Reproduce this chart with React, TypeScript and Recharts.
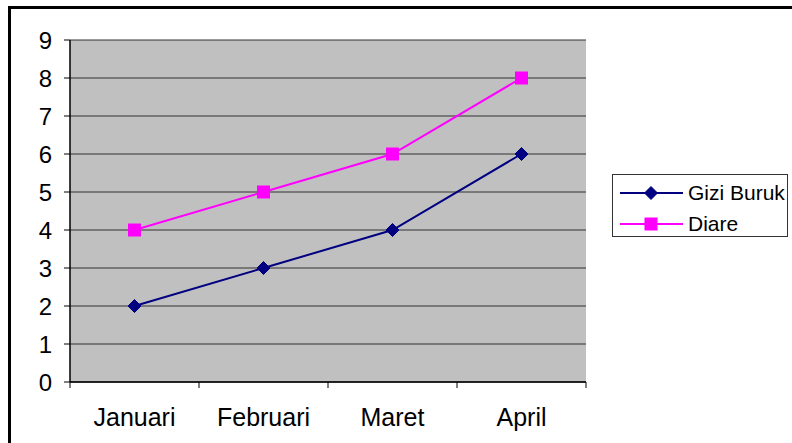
import React from 'react';
import {
  LineChart,
  Line,
  XAxis,
  YAxis,
  CartesianGrid,
  Legend,
} from 'recharts';

const months = ['Januari', 'Februari', 'Maret', 'April'];
const giziBuruk = [2, 3, 4, 6];
const diare = [4, 5, 6, 8];
const yTicks = [0, 1, 2, 3, 4, 5, 6, 7, 8, 9];

const data = months.map((m, i) => ({ name: m, giziBuruk: giziBuruk[i], diare: diare[i] }));

const W = 792;
const H = 443;
const PLOT_LEFT = 70;
const PLOT_RIGHT = 586;
const PLOT_TOP = 40;
const PLOT_BOTTOM = 382;
const HALF_BAND = (PLOT_RIGHT - PLOT_LEFT) / months.length / 2;
const FONT = '"Liberation Sans", Arial, sans-serif';

const NAVY = '#000080';
const MAGENTA = '#FF00FF';

const Diamond = ({ cx, cy, r = 6.5, fill }: any) => (
  <polygon
    points={`${cx},${cy - r} ${cx + r},${cy} ${cx},${cy + r} ${cx - r},${cy}`}
    fill={fill}
    stroke={fill}
  />
);

const Square = ({ cx, cy, s = 6.5, fill }: any) => (
  <rect x={cx - s} y={cy - s} width={s * 2} height={s * 2} fill={fill} />
);

// category label sits at the band centre, tick marks at the band edges
const MonthTick = ({ x, y, payload, index }: any) => (
  <g>
    <line x1={x - HALF_BAND} y1={y - 6} x2={x - HALF_BAND} y2={y} stroke="#000" />
    {index === months.length - 1 && (
      <line x1={x + HALF_BAND} y1={y - 6} x2={x + HALF_BAND} y2={y} stroke="#000" />
    )}
    <text x={x} y={y + 38} textAnchor="middle" fontSize={25} fontFamily={FONT} fill="#000">
      {payload.value}
    </text>
  </g>
);

const series = [
  { key: 'giziBuruk', label: 'Gizi Buruk', color: NAVY, shape: 'diamond' },
  { key: 'diare', label: 'Diare', color: MAGENTA, shape: 'square' },
];

const LegendBox = () => (
  <div
    style={{
      width: 176,
      height: 63,
      border: '1.5px solid #333',
      background: '#fff',
      boxSizing: 'border-box',
      paddingTop: 5,
    }}
  >
    {series.map((s) => (
      <div key={s.key} style={{ display: 'flex', alignItems: 'center', height: 26, marginBottom: 5 }}>
        <svg width={75} height={26} style={{ flex: 'none' }}>
          <line x1={7} y1={13} x2={70} y2={13} stroke={s.color} strokeWidth={2} />
          {s.shape === 'diamond' ? (
            <Diamond cx={38} cy={13} r={6.5} fill={s.color} />
          ) : (
            <Square cx={38} cy={13} s={6.5} fill={s.color} />
          )}
        </svg>
        <span style={{ fontFamily: FONT, fontSize: 21, color: '#000', whiteSpace: 'pre' }}>{s.label}</span>
      </div>
    ))}
  </div>
);

export default function App() {
  return (
    <div style={{ position: 'absolute', left: 0, top: 0, width: W, height: H, overflow: 'hidden', background: '#fff' }}>
      <div
        style={{
          position: 'absolute',
          left: 8,
          top: 6,
          width: 900,
          height: 600,
          border: '3px solid #000',
        }}
      />
      <div style={{ position: 'absolute', left: 0, top: 0 }}>
        <LineChart
          width={W}
          height={H}
          data={data}
          margin={{ top: PLOT_TOP, right: W - PLOT_RIGHT, bottom: 0, left: 0 }}
        >
          <CartesianGrid vertical={false} fill="#C0C0C0" stroke="#333" strokeWidth={1} fillOpacity={1} />
          <XAxis
            dataKey="name"
            height={H - PLOT_BOTTOM}
            padding={{ left: HALF_BAND, right: HALF_BAND }}
            axisLine={{ stroke: '#000', strokeWidth: 1.5 }}
            tickLine={false}
            tickSize={6}
            tickMargin={0}
            tick={<MonthTick />}
            interval={0}
          />
          <XAxis
            xAxisId="top"
            orientation="top"
            dataKey="name"
            height={0}
            tick={false}
            tickLine={false}
            axisLine={{ stroke: '#808080', strokeWidth: 2 }}
          />
          <YAxis
            width={PLOT_LEFT}
            domain={[0, 9]}
            ticks={yTicks}
            interval={0}
            axisLine={{ stroke: '#000', strokeWidth: 1.5 }}
            tickLine={{ stroke: '#000' }}
            tickSize={6}
            tickMargin={12}
            tick={{ fill: '#000', fontSize: 24, fontFamily: FONT }}
          />
          <YAxis
            yAxisId="right"
            orientation="right"
            width={0}
            domain={[0, 9]}
            tick={false}
            tickLine={false}
            axisLine={{ stroke: '#808080', strokeWidth: 2.5 }}
          />
          <Legend
            layout="horizontal"
            verticalAlign="middle"
            align="center"
            content={() => <LegendBox />}
            wrapperStyle={{ position: 'absolute', left: 612, top: 174, width: 176, height: 63 }}
          />
          <Line
            dataKey="giziBuruk"
            name="Gizi Buruk"
            stroke={NAVY}
            strokeWidth={2}
            dot={(p: any) => <Diamond key={p.index} cx={p.cx} cy={p.cy} fill={NAVY} />}
            isAnimationActive={false}
          />
          <Line
            dataKey="diare"
            name="Diare"
            stroke={MAGENTA}
            strokeWidth={2}
            dot={(p: any) => <Square key={p.index} cx={p.cx} cy={p.cy} fill={MAGENTA} />}
            isAnimationActive={false}
          />
        </LineChart>
      </div>
    </div>
  );
}
